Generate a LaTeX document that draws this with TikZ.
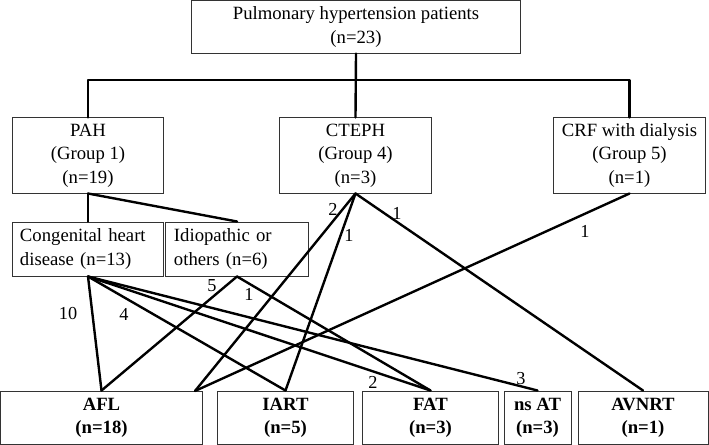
\documentclass[tikz,border=0pt]{standalone}
\usepackage{fontspec}
\setmainfont{Liberation Serif}
\begin{document}
\begin{tikzpicture}[x=0.025cm,y=-0.025cm,
  box/.style={draw=black!80, line width=0.7pt, inner sep=0pt, align=center,
    font=\fontsize{13.3}{16.6}\selectfont},
  leftbox/.style={box, align=left},
  endbox/.style={box, minimum height=1.325cm, font=\fontsize{13.3}{16.6}\selectfont\bfseries},
  link/.style={line width=1.7pt, line cap=round, line join=round},
  num/.style={inner sep=0pt, font=\fontsize{13}{15}\selectfont}]
  \useasboundingbox (0,0) rectangle (709,445);
  % groups
  \node[box, minimum width=8.2cm, minimum height=1.3cm] (pht) at (356,27)
    {Pulmonary hypertension patients\\(n=23)};
  \node[box, minimum width=3.75cm, minimum height=1.875cm] (pah) at (88,155.5)
    {PAH\\(Group 1)\\(n=19)};
  \node[box, minimum width=3.775cm, minimum height=1.875cm] (cteph) at (355.5,155.5)
    {CTEPH\\(Group 4)\\(n=3)};
  \node[box, minimum width=3.775cm, minimum height=1.875cm] (crf) at (629.5,155.5)
    {CRF with dialysis\\(Group 5)\\(n=1)};
  \node[leftbox, minimum width=3.75cm, minimum height=1.35cm, text width=3.4cm] (chd) at (88,249)
    {Congenital heart\\disease (n=13)};
  \node[leftbox, minimum width=3.55cm, minimum height=1.35cm, text width=3.15cm] (idio) at (237,249)
    {Idiopathic or\\others (n=6)};
  % arrhythmias
  \node[endbox, minimum width=5.025cm] (afl) at (101.5,417.5) {AFL\\(n=18)};
  \node[endbox, minimum width=3.375cm] (iart) at (285.5,417.5) {IART\\(n=5)};
  \node[endbox, minimum width=3.375cm] (fat) at (430.5,417.5) {FAT\\(n=3)};
  \node[endbox, minimum width=1.675cm] (nsat) at (537.5,417.5) {ns AT\\(n=3)};
  \node[endbox, minimum width=3.25cm] (avnrt) at (643,417.5) {AVNRT\\(n=1)};
  \coordinate (bus) at (356,80);
  \coordinate (aflr) at (195,391);
  % tree
  \draw[link] (pht.south) -- (cteph.north);
  \draw[link] (pah.north) -- (pah.north |- bus) -- (crf.north |- bus) -- (crf.north);
  \draw[link] (pah.south) -- (chd.north);
  \draw[link] (pah.south) -- (idio.north);
  % to arrhythmias
  \foreach \t in {afl,iart,fat,nsat}
    \draw[link] (chd.south) -- (\t.north);
  \draw[link] (idio.south) -- (afl.north);
  \draw[link] (idio.south) -- (fat.north);
  \draw[link] (cteph.south) -- (aflr);
  \draw[link] (cteph.south) -- (iart.north);
  \draw[link] (cteph.south) -- (avnrt.north);
  \draw[link] (crf.south) -- (aflr);
  % counts
  \node[num] (n10) at (68,314) {10};
  \node[num] (n4) at (124,314) {4};
  \node[num] (n2a) at (373,382) {2};
  \node[num] (n3) at (521,379) {3};
  \node[num] (n5) at (212,286) {5};
  \node[num] (n1a) at (249,294) {1};
  \node[num] (n2b) at (333,209) {2};
  \node[num] (n1b) at (349,235) {1};
  \node[num] (n1c) at (397,213) {1};
  \node[num] (n1d) at (585,231) {1};
\end{tikzpicture}
\end{document}
